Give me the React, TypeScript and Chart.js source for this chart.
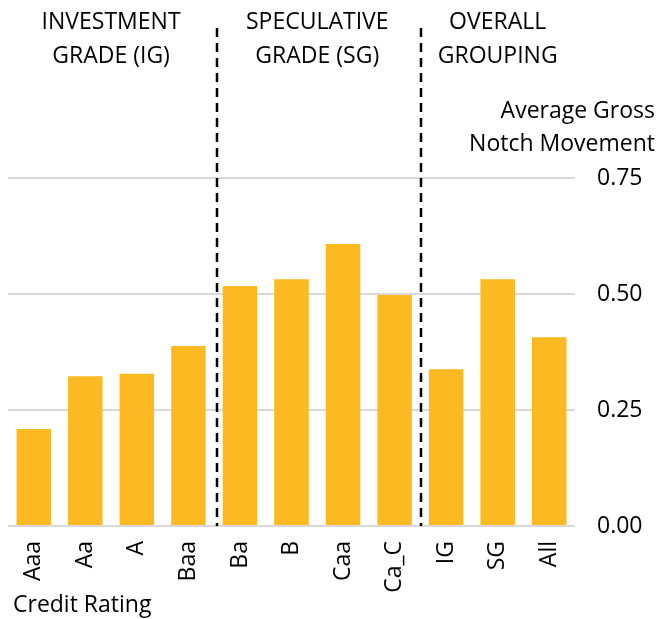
import React, { useEffect, useRef } from "react";
import { Chart, registerables } from "chart.js";

Chart.register(...registerables);

const categories = ["Aaa", "Aa", "A", "Baa", "Ba", "B", "Caa", "Ca_C", "IG", "SG", "All"];
const notchMovement = [0.209, 0.323, 0.328, 0.388, 0.517, 0.532, 0.608, 0.498, 0.338, 0.532, 0.407];
const yTicks = [0, 0.25, 0.5, 0.75];
const groupHeaders = [
  { lines: ["INVESTMENT", "GRADE (IG)"], from: 0, to: 3 },
  { lines: ["SPECULATIVE", "GRADE (SG)"], from: 4, to: 7 },
  { lines: ["OVERALL", "GROUPING"], from: 8, to: 10 },
];
const dividersAfter = [3, 7];
const dividerShift = [3, 1];
const yTitle = ["Average Gross", "Notch Movement"];
const xTitle = "Credit Rating";

const FONT = "'Open Sans', 'Noto Sans', sans-serif";
const FS = 23;

const decorPlugin = {
  id: "decor",
  afterDatasetsDraw(chart: any) {
    const { ctx, chartArea, scales } = chart;
    const x = scales.x;
    ctx.save();
    ctx.strokeStyle = "#000";
    ctx.lineWidth = 2.5;
    ctx.setLineDash([9, 6]);
    dividersAfter.forEach((i, k) => {
      const px = Math.round((x.getPixelForValue(i) + x.getPixelForValue(i + 1)) / 2) + dividerShift[k];
      ctx.beginPath();
      ctx.moveTo(px, 28);
      ctx.lineTo(px, chartArea.bottom);
      ctx.stroke();
    });
    ctx.setLineDash([]);
    ctx.fillStyle = "#000";
    ctx.font = `${FS}px ${FONT}`;
    ctx.textAlign = "center";
    ctx.textBaseline = "middle";
    groupHeaders.forEach((g) => {
      const cx = (x.getPixelForValue(g.from) + x.getPixelForValue(g.to)) / 2;
      g.lines.forEach((l, k) => ctx.fillText(l, cx, 22 + k * 34));
    });
    ctx.textAlign = "right";
    yTitle.forEach((l, k) => ctx.fillText(l, 655, 111 + k * 33));
    ctx.textAlign = "left";
    ctx.fillText(xTitle, 13, 605);
    ctx.restore();
  },
};

export default function App() {
  const ref = useRef<HTMLCanvasElement | null>(null);
  useEffect(() => {
    if (!ref.current) return;
    const chart = new Chart(ref.current, {
      type: "bar",
      data: {
        labels: categories,
        datasets: [
          {
            data: notchMovement,
            backgroundColor: "#FDB922",
            categoryPercentage: 1,
            barPercentage: 0.67,
          },
        ],
      },
      options: {
        animation: false,
        responsive: false,
        maintainAspectRatio: false,
        layout: { padding: { top: 178, left: 8, right: 0, bottom: 0 } },
        plugins: { legend: { display: false }, tooltip: { enabled: false } },
        scales: {
          x: {
            grid: { display: false, drawTicks: false },
            border: { display: false },
            afterFit: (axis: any) => {
              axis.height = 93;
            },
            ticks: {
              color: "#000",
              font: { family: FONT, size: FS },
              minRotation: 90,
              maxRotation: 90,
              padding: 15,
              autoSkip: false,
            },
          },
          y: {
            position: "right",
            min: 0,
            max: 0.75,
            afterBuildTicks: (axis: any) => {
              axis.ticks = yTicks.map((v) => ({ value: v }));
            },
            afterFit: (axis: any) => {
              axis.width = 94;
            },
            grid: { color: "#D9D9D9", lineWidth: 2, drawTicks: false },
            border: { display: false },
            ticks: {
              color: "#000",
              font: { family: FONT, size: FS },
              padding: 22,
              callback: (v: any) => Number(v).toFixed(2),
            },
          },
        },
      },
      plugins: [decorPlugin],
    });
    return () => chart.destroy();
  }, []);
  return (
    <div style={{ position: "fixed", left: 0, top: 0, width: 669, height: 619, background: "#fff" }}>
      <canvas ref={ref} width={669} height={619} style={{ width: 669, height: 619 }} />
    </div>
  );
}
